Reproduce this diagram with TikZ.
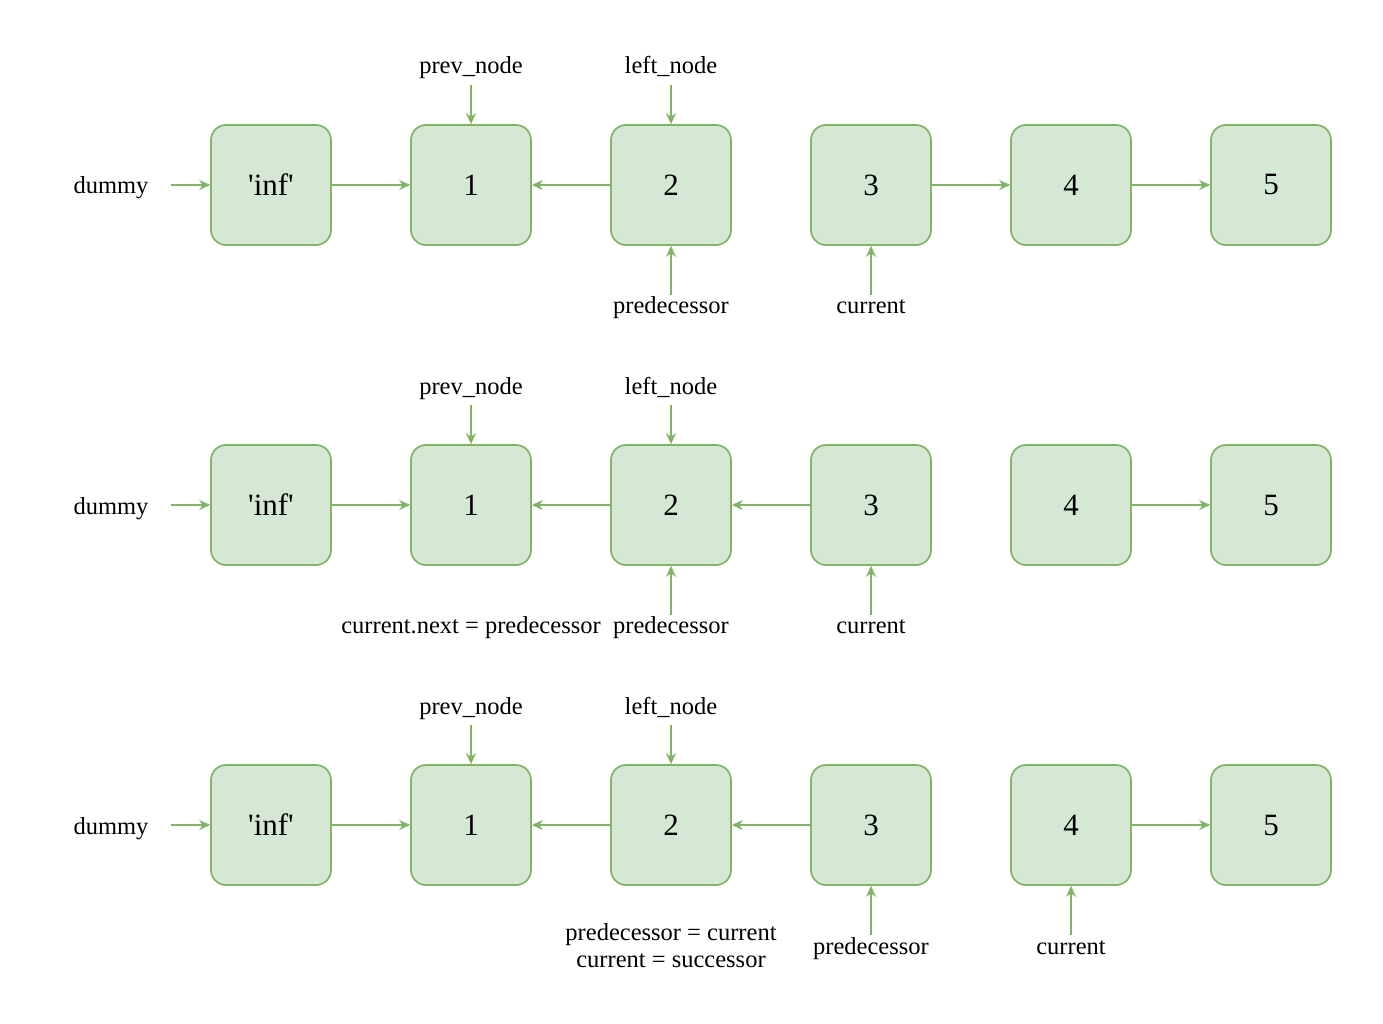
\documentclass[tikz,border=0pt]{standalone}
\usepackage{fontspec}
\setmainfont{Liberation Serif}[Ligatures=TeXOff]
\usetikzlibrary{arrows.meta}
\definecolor{gfill}{HTML}{D5E8D4}
\definecolor{gline}{HTML}{82B366}
\begin{document}
\begin{tikzpicture}[x=1pt,y=-1pt,
  box/.style={draw=gline,fill=gfill,line width=1.7pt,rounded corners=15pt,
    minimum width=120pt,minimum height=120pt,inner sep=0pt,
    font=\fontsize{31}{36}\selectfont},
  lbl/.style={font=\fontsize{24.5}{28}\selectfont,inner sep=0pt,anchor=base},
  arr/.style={draw=gline,line width=1.6pt,-{Stealth[length=11pt,width=10pt]}}]
\useasboundingbox (0,0) rectangle (1383,1024);
\foreach \r/\oy in {a/0,b/320,c/640}{
  \node[box] (\r0) at (271,{185+\oy}) {\raisebox{-2pt}{'inf'}};
  \node[box] (\r1) at (471,{185+\oy}) {\raisebox{-2pt}{1}};
  \node[box] (\r2) at (671,{185+\oy}) {\raisebox{-2pt}{2}};
  \node[box] (\r3) at (871,{185+\oy}) {\raisebox{-2pt}{3}};
  \node[box] (\r4) at (1071,{185+\oy}) {\raisebox{-2pt}{4}};
  \node[box] (\r5) at (1271,{185+\oy}) {\raisebox{-2pt}{5}};
  \node[lbl] (\r dummy) at (111,{194+\oy}) {dummy};
  \coordinate (\r dc) at (171,{185+\oy});
  \node[lbl] (\r prev) at (471,{74+\oy}) {prev\_node};
  \coordinate (\r pc) at (471,{85+\oy});
  \node[lbl] (\r left) at (671,{74+\oy}) {left\_node};
  \coordinate (\r lc) at (671,{85+\oy});
  \draw[arr] (\r dc) -- (\r0);
  \draw[arr] (\r0) -- (\r1);
  \draw[arr] (\r2) -- (\r1);
  \draw[arr] (\r4) -- (\r5);
  \draw[arr] (\r pc) -- (\r1);
  \draw[arr] (\r lc) -- (\r2);
}
% row a
\draw[arr] (a3) -- (a4);
\node[lbl] (apred) at (671,313) {predecessor};
\coordinate (apc) at (671,295);
\draw[arr] (apc) -- (a2);
\node[lbl] (acur) at (871,313) {current};
\coordinate (acc) at (871,295);
\draw[arr] (acc) -- (a3);
% row b
\draw[arr] (b3) -- (b2);
\node[lbl] (bnote) at (471,633) {current.next = predecessor};
\node[lbl] (bpred) at (671,633) {predecessor};
\coordinate (bpc) at (671,615);
\draw[arr] (bpc) -- (b2);
\node[lbl] (bcur) at (871,633) {current};
\coordinate (bcc) at (871,615);
\draw[arr] (bcc) -- (b3);
% row c
\draw[arr] (c3) -- (c2);
\node[lbl] (cnote1) at (671,940) {predecessor = current};
\node[lbl] (cnote2) at (671,967) {current = successor};
\node[lbl] (cpred) at (871,954) {predecessor};
\coordinate (cpc) at (871,935);
\draw[arr] (cpc) -- (c3);
\node[lbl] (ccur) at (1071,954) {current};
\coordinate (ccc) at (1071,935);
\draw[arr] (ccc) -- (c4);
\end{tikzpicture}
\end{document}
